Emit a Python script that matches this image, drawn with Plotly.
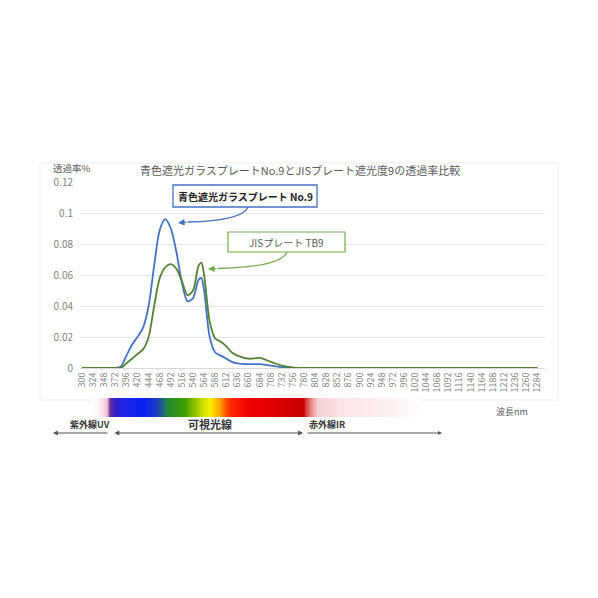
import plotly.graph_objects as go

# ---------------- data ----------------
wavelength = [300, 324, 348, 372, 384, 396, 408, 420, 432, 444, 456, 468, 480, 492, 504,
              516, 528, 540, 552, 558, 564, 576, 588, 600, 612, 624, 636, 660, 684, 708,
              732, 756, 780, 804, 900, 1000, 1100, 1200, 1284]
blue_plate = [0, 0, 0, 0, 0.001, 0.008, 0.015, 0.020, 0.026, 0.040, 0.066, 0.089, 0.096, 0.090, 0.075,
              0.055, 0.043, 0.045, 0.057, 0.058, 0.050, 0.020, 0.010, 0.008, 0.006, 0.004, 0.003, 0.0025, 0.0025, 0.0015,
              0.0005, 0.0002, 0, 0, 0, 0, 0, 0, 0]
jis_tb9 = [0, 0, 0, 0, 0, 0.003, 0.006, 0.009, 0.012, 0.020, 0.040, 0.058, 0.065, 0.067, 0.064,
           0.056, 0.047, 0.050, 0.066, 0.068, 0.060, 0.030, 0.019, 0.017, 0.014, 0.010, 0.008, 0.006, 0.0065, 0.004,
           0.0015, 0.0003, 0, 0, 0, 0, 0, 0, 0]
x_ticks = list(range(300, 1285, 24))
y_ticks = [0, 0.02, 0.04, 0.06, 0.08, 0.1, 0.12]
y_tick_text = ["0", "0.02", "0.04", "0.06", "0.08", "0.1", "0.12"]

# spectrum bar gradient stops (position, colour)
spectrum_stops = [(0.0, "#ffffff"), (0.024, "#fdeef0"), (0.046, "#f0c0d0"), (0.055, "#7030a0"),
                  (0.073, "#3020c8"), (0.10, "#1a28e8"), (0.16, "#0a20f0"), (0.20, "#2040c0"),
                  (0.232, "#208a30"), (0.284, "#40a000"), (0.33, "#b8d800"), (0.36, "#f8f000"),
                  (0.39, "#ffa000"), (0.42, "#ff2a00"), (0.48, "#f00000"), (0.60, "#d40000"),
                  (0.646, "#c80000"), (0.665, "#e88080"), (0.69, "#f6d0d4"), (0.756, "#fae4e6"),
                  (0.909, "#fdf0f1"), (1.0, "#ffffff")]

FONT = "Noto Sans CJK JP"
GREY = "#595959"
BLUE = "#4472c4"
GREEN = "#548235"

OFF = 8  # page body margin
# plot area in screen pixels
L, R, T, B = 80, 545, 182, 420
W, H = R - L, B - T
FIG_W, FIG_H = 590, 590


def px(x):
    return (x - L) / W


def py(y):
    return (B - y) / H


fig = go.Figure()
fig.add_trace(go.Scatter(x=wavelength, y=blue_plate, mode="lines", line=dict(color=BLUE, width=1.8, shape="spline", smoothing=0.8),
                         name="青色遮光ガラスプレート No.9", showlegend=False))
fig.add_trace(go.Scatter(x=wavelength, y=jis_tb9, mode="lines", line=dict(color=GREEN, width=1.8, shape="spline", smoothing=0.8),
                         name="JISプレート TB9", showlegend=False))

# spectrum bar
n = 300
pos = [i / (n - 1) for i in range(n)]
fig.add_trace(go.Heatmap(x=pos, y=[0], z=[pos], colorscale=[[p, c] for p, c in spectrum_stops],
                         showscale=False, hoverinfo="skip", xaxis="x2", yaxis="y2", zmin=0, zmax=1))

fig.update_layout(
    width=FIG_W, height=FIG_H,
    margin=dict(l=L - OFF, r=FIG_W - (R - OFF), t=T - OFF, b=FIG_H - (B - OFF)),
    paper_bgcolor="white", plot_bgcolor="white",
    font=dict(family=FONT, color=GREY),
    xaxis=dict(range=[295.7, 1300.7], tickvals=x_ticks, ticktext=[str(v) for v in x_ticks],
               tickangle=-90, tickfont=dict(size=9, color="#7f7f7f"), showgrid=False,
               showline=True, linecolor="#d9d9d9", zeroline=False, ticks="", anchor="y"),
    yaxis=dict(domain=[py(368), 1], range=[0, 0.12], tickvals=y_ticks, ticktext=y_tick_text,
               tickfont=dict(size=10, color="#7f7f7f"), gridcolor="#e4e4e4", gridwidth=1,
               zeroline=False, showline=False, ticklabelstandoff=6, anchor="x"),
    xaxis2=dict(domain=[px(92), px(420)], range=[0, 1], visible=False, anchor="y2"),
    yaxis2=dict(domain=[py(417), py(398)], range=[-0.5, 0.5], visible=False, anchor="x2"),
)

ann = []
ann.append(dict(x=px(300), y=py(170), xref="paper", yref="paper", text="青色遮光ガラスプレートNo.9とJISプレート遮光度9の透過率比較",
                showarrow=False, font=dict(size=11, color=GREY), xanchor="center", yanchor="middle"))
ann.append(dict(x=px(51), y=py(168), xref="paper", yref="paper", text="透過率%",
                showarrow=False, font=dict(size=9.5, color=GREY), xanchor="left", yanchor="middle"))
ann.append(dict(x=px(512), y=py(411), xref="paper", yref="paper", text="波長nm",
                showarrow=False, font=dict(size=9, color=GREY), xanchor="center", yanchor="middle"))
# label boxes
ann.append(dict(x=px(245), y=py(196), xref="paper", yref="paper", text="<b>青色遮光ガラスプレート No.9</b>",
                showarrow=False, font=dict(size=10, color="#222222"), xanchor="center", yanchor="middle"))
ann.append(dict(x=px(286.5), y=py(242), xref="paper", yref="paper", text="JISプレート TB9",
                showarrow=False, font=dict(size=10, color=GREY), xanchor="center", yanchor="middle"))
# arrow heads of the curved pointers
ann.append(dict(x=px(178), y=py(223), xref="paper", yref="paper", text="", showarrow=True,
                ax=10, ay=-1, arrowhead=2, arrowsize=1, arrowwidth=1.3, arrowcolor=BLUE))
ann.append(dict(x=px(208), y=py(269), xref="paper", yref="paper", text="", showarrow=True,
                ax=10, ay=-0.5, arrowhead=2, arrowsize=1, arrowwidth=1.3, arrowcolor="#70ad47"))
# band labels
ann.append(dict(x=px(90), y=py(424), xref="paper", yref="paper", text="<b>紫外線UV</b>",
                showarrow=False, font=dict(size=9, color="#333333"), xanchor="center", yanchor="middle"))
ann.append(dict(x=px(210), y=py(424), xref="paper", yref="paper", text="<b>可視光線</b>",
                showarrow=False, font=dict(size=11, color="#333333"), xanchor="center", yanchor="middle"))
ann.append(dict(x=px(307), y=py(424), xref="paper", yref="paper", text="<b>赤外線IR</b>",
                showarrow=False, font=dict(size=9, color="#333333"), xanchor="left", yanchor="middle"))
# band arrows
ann.append(dict(x=px(53), y=py(433), xref="paper", yref="paper", text="", showarrow=True,
                ax=56, ay=0, arrowhead=2, arrowsize=0.8, arrowwidth=1.2, arrowcolor="#555555"))
ann.append(dict(x=px(303), y=py(433), xref="paper", yref="paper", text="", showarrow=True,
                ax=-190, ay=0, arrowhead=2, startarrowhead=2, arrowside="end+start", arrowsize=0.8,
                arrowwidth=1.2, arrowcolor="#555555"))
ann.append(dict(x=px(442), y=py(433), xref="paper", yref="paper", text="", showarrow=True,
                ax=-136, ay=0, arrowhead=2, arrowsize=0.8, arrowwidth=1.0, arrowcolor="#555555"))
fig.update_layout(annotations=ann)

shapes = []
# faint chart area border
shapes.append(dict(type="rect", xref="paper", yref="paper", x0=px(40), x1=px(558), y0=py(400), y1=py(163),
                   line=dict(color="#eeeeee", width=1), layer="below"))
# label boxes
shapes.append(dict(type="rect", xref="paper", yref="paper", x0=px(173), x1=px(317), y0=py(207), y1=py(185),
                   line=dict(color=BLUE, width=1.3), fillcolor="white"))
shapes.append(dict(type="rect", xref="paper", yref="paper", x0=px(228), x1=px(345), y0=py(252), y1=py(232),
                   line=dict(color="#70ad47", width=1.2), fillcolor="white"))
# curved pointers
shapes.append(dict(type="path", xref="paper", yref="paper",
                   path=f"M {px(248)},{py(207)} Q {px(242)},{py(221)} {px(188)},{py(222)}",
                   line=dict(color=BLUE, width=1.3)))
shapes.append(dict(type="path", xref="paper", yref="paper",
                   path=f"M {px(287)},{py(252)} Q {px(281)},{py(267)} {px(218)},{py(268.5)}",
                   line=dict(color="#70ad47", width=1.3)))
fig.update_layout(shapes=shapes)

fig.write_html("out.html")
